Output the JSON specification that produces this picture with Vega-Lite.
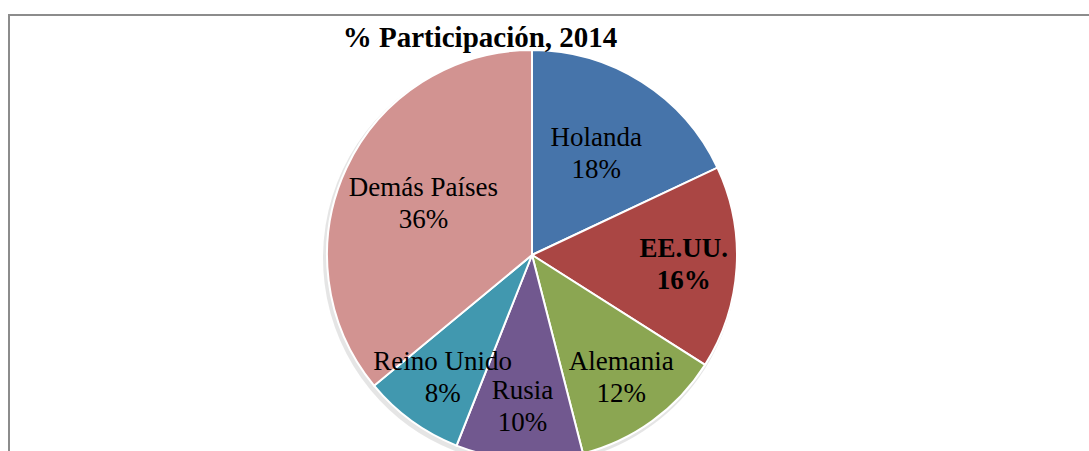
{
  "$schema": "https://vega.github.io/schema/vega-lite/v6.json",
  "width": 1100,
  "height": 470,
  "autosize": "none",
  "padding": {"left": 9, "top": 15, "right": 0, "bottom": 0},
  "background": "white",
  "view": {"stroke": "#8c8c8c", "strokeWidth": 2, "fill": "white"},
  "title": {
    "text": "% Participación, 2014",
    "font": "Liberation Serif",
    "fontSize": 29,
    "fontWeight": "bold",
    "color": "black",
    "anchor": "middle",
    "dx": -79,
    "baseline": "alphabetic",
    "offset": -61
  },
  "data": {
    "values": [
      {"pais": "Holanda", "pct": 18, "orden": 1},
      {"pais": "EE.UU.", "pct": 16, "orden": 2},
      {"pais": "Alemania", "pct": 12, "orden": 3},
      {"pais": "Rusia", "pct": 10, "orden": 4},
      {"pais": "Reino Unido", "pct": 8, "orden": 5},
      {"pais": "Demás Países", "pct": 36, "orden": 6}
    ]
  },
  "transform": [
    {"calculate": "datum.pais + '\\n' + datum.pct + '%'", "as": "etiqueta"}
  ],
  "encoding": {
    "theta": {"field": "pct", "type": "quantitative", "stack": true},
    "order": {"field": "orden", "type": "quantitative"}
  },
  "layer": [
    {
      "mark": {"type": "arc", "outerRadius": 207, "xOffset": -29, "yOffset": 8, "color": "#000000", "opacity": 0.1}
    },
    {
      "mark": {"type": "arc", "outerRadius": 205, "xOffset": -27, "yOffset": 5, "stroke": "white", "strokeWidth": 2},
      "encoding": {
        "color": {
          "field": "pais",
          "type": "nominal",
          "scale": {
            "domain": ["Holanda", "EE.UU.", "Alemania", "Rusia", "Reino Unido", "Demás Países"],
            "range": ["#4674AA", "#AA4644", "#8BA652", "#71588F", "#4198AF", "#D29391"]
          },
          "legend": null
        }
      }
    },
    {
      "mark": {"type": "text", "radius": 120, "xOffset": -27, "yOffset": -11, "font": "Liberation Serif", "fontSize": 27, "lineBreak": "\n", "lineHeight": 32, "color": "black"},
      "encoding": {
        "text": {"condition": {"test": "datum.pais === 'Holanda' || datum.pais === 'Demás Países'", "field": "etiqueta", "type": "nominal"}, "value": ""}
      }
    },
    {
      "mark": {"type": "text", "radius": 152, "xOffset": -27, "yOffset": -11, "font": "Liberation Serif", "fontSize": 27, "lineBreak": "\n", "lineHeight": 32, "color": "black"},
      "encoding": {
        "text": {"condition": {"test": "datum.pais === 'Alemania' || datum.pais === 'Rusia' || datum.pais === 'Reino Unido'", "field": "etiqueta", "type": "nominal"}, "value": ""}
      }
    },
    {
      "mark": {"type": "text", "radius": 152, "xOffset": -27, "yOffset": -11, "font": "Liberation Serif", "fontSize": 27, "fontWeight": "bold", "lineBreak": "\n", "lineHeight": 32, "color": "black"},
      "encoding": {
        "text": {"condition": {"test": "datum.pais === 'EE.UU.'", "field": "etiqueta", "type": "nominal"}, "value": ""}
      }
    }
  ]
}
